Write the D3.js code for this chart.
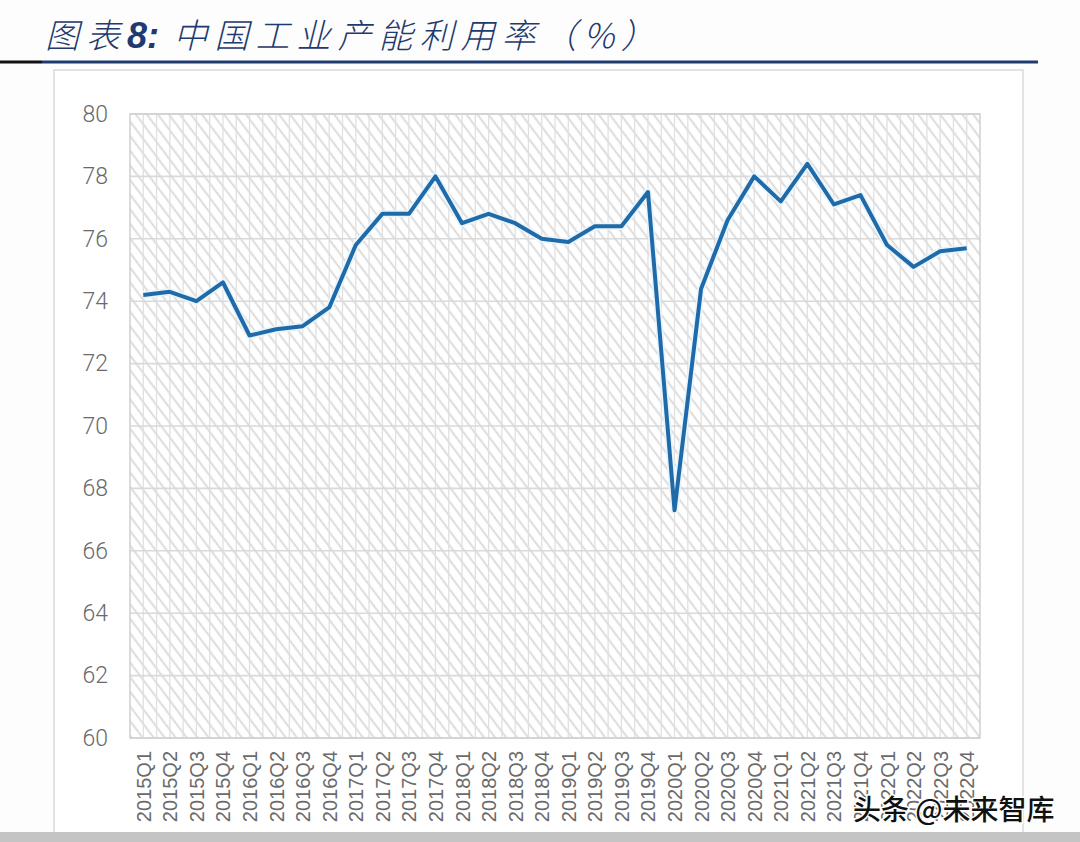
<!DOCTYPE html>
<html><head><meta charset="utf-8">
<script src="https://cdn.jsdelivr.net/npm/d3@7"></script>
<style>
html,body{margin:0;padding:0;background:#fdfdfd;}
svg{display:block;}
</style></head>
<body>
<svg id="c" width="1080" height="842"></svg>
<script>
const categories = ["2015Q1","2015Q2","2015Q3","2015Q4","2016Q1","2016Q2","2016Q3","2016Q4",
"2017Q1","2017Q2","2017Q3","2017Q4","2018Q1","2018Q2","2018Q3","2018Q4",
"2019Q1","2019Q2","2019Q3","2019Q4","2020Q1","2020Q2","2020Q3","2020Q4",
"2021Q1","2021Q2","2021Q3","2021Q4","2022Q1","2022Q2","2022Q3","2022Q4"];
const values = [74.2,74.3,74.0,74.6,72.9,73.1,73.2,73.8,
75.8,76.8,76.8,78.0,76.5,76.8,76.5,76.0,
75.9,76.4,76.4,77.5,67.3,74.4,76.6,78.0,
77.2,78.4,77.1,77.4,75.8,75.1,75.6,75.7];
const yTicks = [60,62,64,66,68,70,72,74,76,78,80];

const svg = d3.select("#c");
const m = {left:130, right:980, top:114, bottom:738};

// title
svg.append("text").attr("x",45).attr("y",48)
  .attr("font-family","'Noto Sans CJK SC'").attr("font-style","italic").attr("font-weight",300)
  .attr("font-size",34).attr("fill","#1f3a6e").attr("letter-spacing",7)
  .html('图表<tspan font-weight="bold" font-family="Liberation Sans" font-size="36" letter-spacing="0">8:</tspan>  中国工业产能利用率（%）');

// title rule
svg.append("line").attr("x1",0).attr("x2",42).attr("y1",62).attr("y2",62).attr("stroke","#111").attr("stroke-width",3);
svg.append("line").attr("x1",42).attr("x2",1038).attr("y1",62).attr("y2",62).attr("stroke","#1f3a6e").attr("stroke-width",3);

// frame
svg.append("rect").attr("x",54).attr("y",70).attr("width",969).attr("height",780)
  .attr("fill","#ffffff").attr("stroke","#d9d9d9").attr("stroke-width",1.5);
// bottom gray band
svg.append("rect").attr("x",0).attr("y",832).attr("width",1080).attr("height",10).attr("fill","#c4c4c4");

// hatch pattern
const defs = svg.append("defs");
const pat = defs.append("pattern").attr("id","hatch").attr("patternUnits","userSpaceOnUse")
  .attr("width",20).attr("height",8.8).attr("patternTransform","rotate(53)");
pat.append("line").attr("x1",0).attr("x2",20).attr("y1",4.4).attr("y2",4.4)
  .attr("stroke","#d6d6d6").attr("stroke-width",1.7);

const x = d3.scalePoint().domain(categories).range([m.left, m.right]).padding(0.5);
const band = (m.right - m.left) / categories.length;
const y = d3.scaleLinear().domain([60,80]).range([m.bottom, m.top]);

const g = svg.append("g");
g.append("rect").attr("x",m.left).attr("y",m.top).attr("width",m.right-m.left).attr("height",m.bottom-m.top)
  .attr("fill","url(#hatch)");

// vertical grid lines (half-category)
const vlines = [];
categories.forEach(c => { vlines.push(x(c)-band/2); vlines.push(x(c)); });
g.selectAll(".vl").data(vlines.slice(1)).join("line")
  .attr("x1",d=>d).attr("x2",d=>d).attr("y1",m.top).attr("y2",m.bottom)
  .attr("stroke","#e0e0e0").attr("stroke-width",1.3);

// horizontal grid
g.selectAll(".hl").data(yTicks).join("line")
  .attr("x1",m.left).attr("x2",m.right).attr("y1",d=>y(d)).attr("y2",d=>y(d))
  .attr("stroke","#d9d9d9").attr("stroke-width",1.6);

// plot border
g.append("rect").attr("x",m.left).attr("y",m.top).attr("width",m.right-m.left).attr("height",m.bottom-m.top)
  .attr("fill","none").attr("stroke","#d0d0d0").attr("stroke-width",1.5);

// y axis
const yAxis = svg.append("g").attr("transform",`translate(${m.left-22},0)`)
  .call(d3.axisLeft(y).tickValues(yTicks).tickSize(0).tickPadding(0));
yAxis.select(".domain").remove();
yAxis.selectAll("text").attr("font-family","Roboto, 'Liberation Sans'").attr("font-weight",300)
  .attr("font-size",23).attr("fill","#6a6a6a");

// x axis
const xAxis = svg.append("g").attr("transform",`translate(0,${m.bottom})`)
  .call(d3.axisBottom(x).tickSize(0).tickPadding(0));
xAxis.select(".domain").remove();
xAxis.selectAll("text")
  .attr("font-family","'Liberation Sans', Arial").attr("font-size",20).attr("fill","#6a6a6a")
  .attr("text-anchor","end").attr("dy","0.35em")
  .attr("transform","translate(0,13) rotate(-90)");

// line
const line = d3.line().x((d,i)=>x(categories[i])).y(d=>y(d));
g.append("path").datum(values).attr("d",line).attr("fill","none")
  .attr("stroke","#eaf4fb").attr("stroke-width",7.5).attr("stroke-linejoin","round");
g.append("path").datum(values).attr("d",line).attr("fill","none")
  .attr("stroke","#1f6aa8").attr("stroke-width",4).attr("stroke-linejoin","round");

// watermark
svg.append("text").attr("x",853).attr("y",820)
  .attr("font-family","'Noto Sans CJK SC'").attr("font-size",28).attr("font-weight",500).attr("fill","#111")
  .attr("stroke","#fff").attr("stroke-width",3).attr("paint-order","stroke")
  .text("头条 @未来智库");
</script>
</body></html>
